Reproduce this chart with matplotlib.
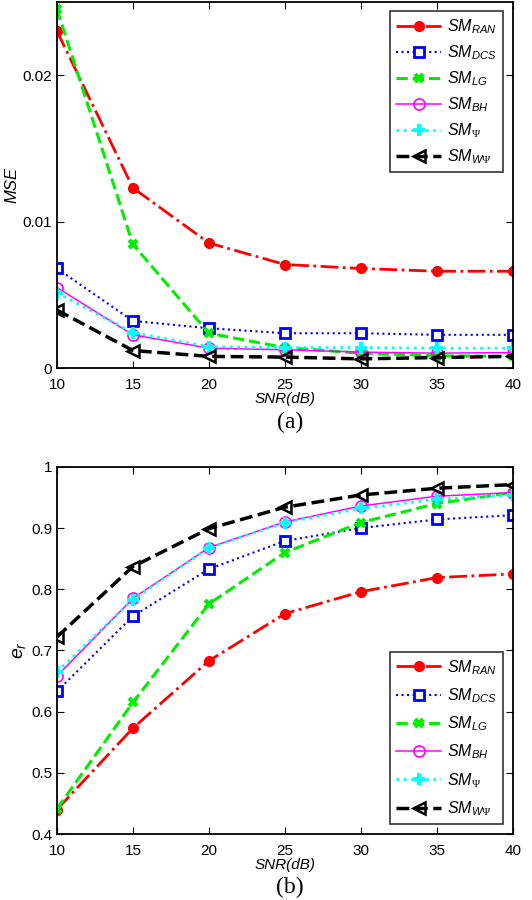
import matplotlib
matplotlib.use('Agg')
import matplotlib.pyplot as plt

plt.rcParams['font.family'] = ['Liberation Sans', 'DejaVu Sans']
plt.rcParams['mathtext.fontset'] = 'custom'
plt.rcParams['mathtext.it'] = 'Liberation Sans:italic'
plt.rcParams['mathtext.rm'] = 'Liberation Serif'

snr = [10, 15, 20, 25, 30, 35, 40]

# MSE, panel (a)
mse_ran = [0.0230, 0.0123, 0.00854, 0.00707, 0.00680, 0.00661, 0.00661]
mse_dcs = [0.0068, 0.00322, 0.00272, 0.00238, 0.00238, 0.00227, 0.00227]
mse_lg = [0.0245, 0.00845, 0.00238, 0.00140, 0.00102, 0.00084, 0.00080]
mse_bh = [0.0055, 0.00227, 0.00136, 0.00125, 0.00109, 0.00102, 0.00106]
mse_psi = [0.00514, 0.00242, 0.00147, 0.00140, 0.00140, 0.00136, 0.00136]
mse_wpsi = [0.00396, 0.00120, 0.00080, 0.00075, 0.00063, 0.00072, 0.00080]

# e_r, panel (b)
er_ran = [0.440, 0.573, 0.683, 0.760, 0.796, 0.819, 0.825]
er_dcs = [0.633, 0.756, 0.833, 0.879, 0.900, 0.914, 0.921]
er_lg = [0.441, 0.615, 0.776, 0.860, 0.909, 0.940, 0.958]
er_bh = [0.658, 0.785, 0.868, 0.910, 0.936, 0.952, 0.958]
er_psi = [0.665, 0.783, 0.868, 0.909, 0.932, 0.947, 0.954]
er_wpsi = [0.722, 0.837, 0.899, 0.934, 0.954, 0.965, 0.971]

labels = [r'$SM_{RAN}$', r'$SM_{DCS}$', r'$SM_{LG}$', r'$SM_{BH}$',
          r'$SM_{\Psi}$', r'$SM_{W\Psi}$']

styles = [
    dict(color='red', ls='-.', lw=2, marker='o', ms=7, mfc='red', mec='red'),
    dict(color='blue', ls=':', lw=1.5, marker='s', ms=7, mfc='white', mec='blue', mew=2),
    dict(color='#00ee00', ls='--', lw=2.2, marker='x', ms=6, mec='#00ee00', mew=3),
    dict(color='magenta', ls='-', lw=1.1, marker='o', ms=8, mfc='none', mec='magenta', mew=1.2),
    dict(color='cyan', ls=':', lw=2, marker='+', ms=9, mec='cyan', mew=3),
    dict(color='black', ls='--', lw=2.5, marker='<', ms=9, mfc='none', mec='black', mew=1.8),
]

fig = plt.figure(figsize=(5.32, 9), dpi=100)
ax1 = fig.add_axes([0.107, 0.591, 0.857, 0.407])
ax2 = fig.add_axes([0.107, 0.0733, 0.857, 0.408])

for ys, st, lab in zip([mse_ran, mse_dcs, mse_lg, mse_bh, mse_psi, mse_wpsi], styles, labels):
    ax1.plot(snr, ys, label=lab, **st)
for ys, st, lab in zip([er_ran, er_dcs, er_lg, er_bh, er_psi, er_wpsi], styles, labels):
    ax2.plot(snr, ys, label=lab, **st)

ax1.set_xlim(10, 40)
ax1.set_ylim(0, 0.025)
ax1.set_yticks([0, 0.01, 0.02])
ax1.set_yticklabels(['0', '0.01', '0.02'])
ax1.set_ylabel('MSE', fontstyle='italic', fontsize=12, labelpad=2)

ax2.set_xlim(10, 40)
ax2.set_ylim(0.4, 1)
ax2.set_yticks([0.4, 0.5, 0.6, 0.7, 0.8, 0.9, 1])
ax2.set_yticklabels(['0.4', '0.5', '0.6', '0.7', '0.8', '0.9', '1'])
ax2.set_ylabel(r'$e_r$', fontsize=14, labelpad=2)

for ax in (ax1, ax2):
    ax.set_xticks(snr)
    ax.tick_params(direction='in', top=True, right=True, labelsize=11, length=5, width=0.8)
    ax.tick_params(axis='x', pad=7)
    ax.set_xlabel('SNR(dB)', fontstyle='italic', fontsize=11, labelpad=0)
    for sp in ax.spines.values():
        sp.set_linewidth(1.3)

leg1 = ax1.legend(loc='upper right', fontsize=11.5, handlelength=2.8, frameon=True,
                  fancybox=False, edgecolor='black', borderaxespad=0.6,
                  labelspacing=0.45, handletextpad=0.4, borderpad=0.4)
leg1.get_frame().set_linewidth(1.2)
leg2 = ax2.legend(loc='lower right', fontsize=11.5, handlelength=2.8, frameon=True,
                  fancybox=False, edgecolor='black', borderaxespad=0.6,
                  labelspacing=0.6, handletextpad=0.4, borderpad=0.4)
leg2.get_frame().set_linewidth(1.2)

fig.text(0.545, 1 - 422 / 900, '(a)', family='Liberation Serif', fontsize=17, ha='center', va='center')
fig.text(0.545, 1 - 887 / 900, '(b)', family='Liberation Serif', fontsize=17, ha='center', va='center')

fig.savefig('out.png', dpi=100)
